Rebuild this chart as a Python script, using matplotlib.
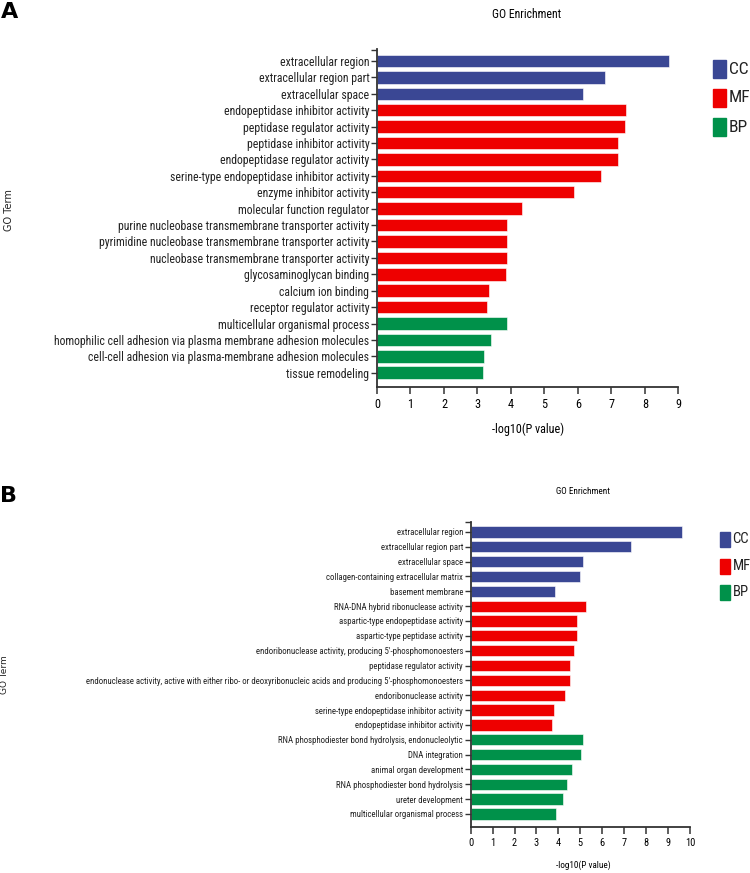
import matplotlib.pyplot as plt
from matplotlib.patches import Rectangle

plt.rcParams["font.family"] = ["Roboto Condensed", "DejaVu Sans"]

cat_colors = {"CC": "#3a4794", "MF": "#ee0000", "BP": "#00914a"}
cat_order = ["CC", "MF", "BP"]

terms_a = [
    "extracellular region",
    "extracellular region part",
    "extracellular space",
    "endopeptidase inhibitor activity",
    "peptidase regulator activity",
    "peptidase inhibitor activity",
    "endopeptidase regulator activity",
    "serine-type endopeptidase inhibitor activity",
    "enzyme inhibitor activity",
    "molecular function regulator",
    "purine nucleobase transmembrane transporter activity",
    "pyrimidine nucleobase transmembrane transporter activity",
    "nucleobase transmembrane transporter activity",
    "glycosaminoglycan binding",
    "calcium ion binding",
    "receptor regulator activity",
    "multicellular organismal process",
    "homophilic cell adhesion via plasma membrane adhesion molecules",
    "cell-cell adhesion via plasma-membrane adhesion molecules",
    "tissue remodeling",
]
values_a = [8.72, 6.81, 6.14, 7.45, 7.42, 7.19, 7.19, 6.70, 5.88, 4.33,
            3.89, 3.89, 3.89, 3.85, 3.35, 3.29, 3.87, 3.40, 3.19, 3.16]
cats_a = ["CC"] * 3 + ["MF"] * 13 + ["BP"] * 4

terms_b = [
    "extracellular region",
    "extracellular region part",
    "extracellular space",
    "collagen-containing extracellular matrix",
    "basement membrane",
    "RNA-DNA hybrid ribonuclease activity",
    "aspartic-type endopeptidase activity",
    "aspartic-type peptidase activity",
    "endoribonuclease activity, producing 5'-phosphomonoesters",
    "peptidase regulator activity",
    "endonuclease activity, active with either ribo- or deoxyribonucleic acids and producing 5'-phosphomonoesters",
    "endoribonuclease activity",
    "serine-type endopeptidase inhibitor activity",
    "endopeptidase inhibitor activity",
    "RNA phosphodiester bond hydrolysis, endonucleolytic",
    "DNA integration",
    "animal organ development",
    "RNA phosphodiester bond hydrolysis",
    "ureter development",
    "multicellular organismal process",
]
values_b = [9.63, 7.29, 5.11, 4.98, 3.84, 5.24, 4.85, 4.85, 4.72, 4.54,
            4.52, 4.32, 3.78, 3.71, 5.13, 5.04, 4.61, 4.37, 4.21, 3.87]
cats_b = ["CC"] * 5 + ["MF"] * 9 + ["BP"] * 6

W, H = 750, 873
fig = plt.figure(figsize=(7.5, 8.73), dpi=100)


def px(x, y):
    return x / W, 1 - y / H


def panel(rect, terms, values, cats, xmax, ylim, lab_size, tick_size):
    ax = fig.add_axes(rect)
    pos = list(range(len(terms)))
    ax.barh(pos, values, height=0.76, color=[cat_colors[c] for c in cats],
            edgecolor="white", linewidth=0.4)
    ax.set_ylim(*ylim)
    ax.set_xlim(0, xmax)
    ax.set_yticks(pos)
    ax.set_yticklabels(terms, fontsize=lab_size, color="#222222")
    # small cap at the top end of the y axis
    ax.set_yticks([ylim[1] + 0.05], minor=True)
    ax.set_xticks(range(0, xmax + 1))
    ax.tick_params(axis="x", labelsize=tick_size, length=5, width=1.1,
                   color="#333333", pad=3)
    ax.tick_params(axis="y", which="both", length=4, width=1.0,
                   color="#333333", pad=1.5)
    for s in ["top", "right"]:
        ax.spines[s].set_visible(False)
    for s in ["left", "bottom"]:
        ax.spines[s].set_linewidth(1.3)
        ax.spines[s].set_color("#333333")
    return ax


ax_a = panel([377 / W, 1 - 387 / H, (678.3 - 377) / W, (387 - 49) / H],
             terms_a, values_a, cats_a, 9, (19.87, -0.73), 8.5, 8.8)
ax_b = panel([470.7 / W, 1 - 826.7 / H, (690 - 470.7) / W, (826.7 - 521.7) / H],
             terms_b, values_b, cats_b, 10, (19.86, -0.69), 6.3, 7.5)

# titles, axis labels, panel letters
fig.text(*px(527, 15), "GO Enrichment", ha="center", va="center", fontsize=8.5)
fig.text(*px(528, 429), "-log10(P value)", ha="center", va="center", fontsize=8.7)
fig.text(*px(583, 491), "GO Enrichment", ha="center", va="center", fontsize=6.6)
fig.text(*px(583, 865), "-log10(P value)", ha="center", va="center", fontsize=6.6)
fig.text(*px(9, 210), "GO Term", rotation=90, ha="center", va="center",
         fontsize=7, family="DejaVu Sans", color="#222222")
fig.text(*px(5, 675), "GO Term", rotation=90, ha="center", va="center",
         fontsize=6.5, family="DejaVu Sans", color="#222222")
fig.text(*px(1, 12), "A", ha="left", va="center", fontsize=16,
         fontweight="bold", family="DejaVu Sans")
fig.text(*px(0, 496), "B", ha="left", va="center", fontsize=16,
         fontweight="bold", family="DejaVu Sans")

# category keys
for x0, w, h, ys, fs in [(713, 13, 18, [69, 98, 127], 12.5),
                         (720, 10, 15, [539, 566, 592], 10.5)]:
    for cat, yc in zip(cat_order, ys):
        fig.add_artist(Rectangle(px(x0, yc + h / 2), w / W, h / H,
                                 transform=fig.transFigure,
                                 color=cat_colors[cat]))
        fig.text(*px(x0 + w + 2.5, yc), cat, ha="left", va="center",
                 fontsize=fs, color="#222222")

fig.savefig("out.png", dpi=100)
